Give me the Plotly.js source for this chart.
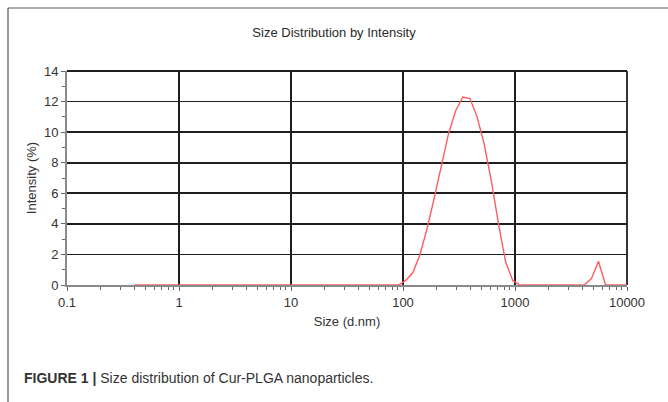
<!DOCTYPE html>
<html>
<head>
<meta charset="utf-8">
<script src="https://cdn.plot.ly/plotly-3.0.1.min.js"></script>
<style>html,body{margin:0;padding:0;background:#fff;}#chart{width:668px;height:402px;}</style>
</head>
<body>
<div id="chart"></div>
<script>
// Malvern size bins (d.nm)
const sizeNm = [0.4, 0.4632, 0.5365, 0.6213, 0.7195, 0.8332, 0.9649, 1.117, 1.294, 1.499,
  1.736, 2.01, 2.328, 2.696, 3.122, 3.615, 4.187, 4.849, 5.615, 6.503,
  7.531, 8.721, 10.1, 11.7, 13.54, 15.69, 18.17, 21.04, 24.36, 28.21,
  32.67, 37.84, 43.82, 50.75, 58.77, 68.06, 78.82, 91.28, 105.7, 122.4,
  141.8, 164.2, 190.1, 220.2, 255.0, 295.3, 342.0, 396.1, 458.7, 531.2,
  615.1, 712.4, 825.0, 955.4, 1106, 1281, 1484, 1718, 1990, 2305,
  2669, 3091, 3580, 4145, 4801, 5560, 6439, 7456, 8635, 10000];
const intensityPct = [0, 0, 0, 0, 0, 0, 0, 0, 0, 0,
  0, 0, 0, 0, 0, 0, 0, 0, 0, 0,
  0, 0, 0, 0, 0, 0, 0, 0, 0, 0,
  0, 0, 0, 0, 0, 0, 0, 0, 0.3, 0.8,
  2.0, 3.7, 5.7, 7.9, 9.9, 11.4, 12.3, 12.2, 11.0, 9.2,
  6.8, 4.0, 1.5, 0.3, 0, 0, 0, 0, 0, 0,
  0, 0, 0, 0, 0.4, 1.55, 0, 0, 0, 0];
const xTickVals = [0.1, 1, 10, 100, 1000, 10000];
const xTickText = ['0.1', '1', '10', '100', '1000', '10000'];
const yTickVals = [0, 2, 4, 6, 8, 10, 12, 14];

const FONT = 'Liberation Sans, Arial, sans-serif';
const L = 67, R = 627, T = 71, B = 285;
const px2x = p => (p - L) / (R - L);
const px2y = p => (B - p) / (B - T);

const trace = {
  x: sizeNm, y: intensityPct, type: 'scatter', mode: 'lines',
  line: {color: '#ff5c5c', width: 1.4}, hoverinfo: 'skip'
};

const layout = {
  width: 668, height: 402,
  margin: {l: L, r: 668 - R, t: T, b: 402 - B},
  paper_bgcolor: '#fff', plot_bgcolor: '#fff',
  showlegend: false,
  font: {family: FONT, color: '#333', size: 13},
  title: {text: 'Size Distribution by Intensity', x: 0.5, xref: 'container', xanchor: 'center',
    y: 1 - 32 / 402, yref: 'container', yanchor: 'middle', font: {family: FONT, size: 13, color: '#2a2a2a'}},
  xaxis: {
    type: 'log', range: [-1, 4], tickmode: 'array', tickvals: xTickVals, ticktext: xTickText,
    showgrid: true, gridcolor: '#1e1e1e', gridwidth: 1.8,
    showline: true, linecolor: '#8a8a8a', linewidth: 2,
    ticks: 'outside', ticklen: 4, tickcolor: '#666',
    minor: {ticks: 'outside', ticklen: 3, tickcolor: '#666', showgrid: false, dtick: 'D1'},
    zeroline: false,
    tickfont: {family: FONT, size: 13, color: '#333'},
    title: {text: 'Size (d.nm)', standoff: 8, font: {family: FONT, size: 13, color: '#333'}},
    fixedrange: true
  },
  yaxis: {
    range: [0, 14], tickmode: 'array', tickvals: yTickVals,
    showgrid: true, gridcolor: '#1e1e1e', gridwidth: 1.8,
    showline: true, linecolor: '#8a8a8a', linewidth: 2,
    ticks: 'outside', ticklen: 4, tickcolor: '#666',
    minor: {ticks: 'outside', ticklen: 3, tickcolor: '#666', showgrid: false, dtick: 1},
    zeroline: false,
    tickfont: {family: FONT, size: 13, color: '#333'},
    title: {text: 'Intensity (%)', standoff: 4, font: {family: FONT, size: 13, color: '#333'}},
    fixedrange: true
  },
  shapes: [
    {type: 'line', xref: 'paper', yref: 'paper', x0: px2x(8), x1: px2x(668), y0: px2y(8), y1: px2y(8),
      line: {color: '#555', width: 1.2}},
    {type: 'line', xref: 'paper', yref: 'paper', x0: px2x(8), x1: px2x(8), y0: px2y(8), y1: px2y(402),
      line: {color: '#555', width: 1.2}},
    {type: 'line', xref: 'paper', yref: 'paper', x0: 0, x1: 1, y0: 1, y1: 1, layer: 'below',
      line: {color: '#1e1e1e', width: 1.8}},
    {type: 'line', xref: 'paper', yref: 'paper', x0: 1, x1: 1, y0: 0, y1: 1, layer: 'below',
      line: {color: '#1e1e1e', width: 1.8}}
  ],
  annotations: [
    {xref: 'paper', yref: 'paper', x: px2x(22), y: px2y(378), xanchor: 'left', yanchor: 'middle',
      showarrow: false, align: 'left',
      text: '<b>FIGURE 1 |</b> Size distribution of Cur-PLGA nanoparticles.',
      font: {family: FONT, size: 14, color: '#333'}}
  ]
};

Plotly.newPlot('chart', [trace], layout, {displayModeBar: false, staticPlot: true});
</script>
</body>
</html>
